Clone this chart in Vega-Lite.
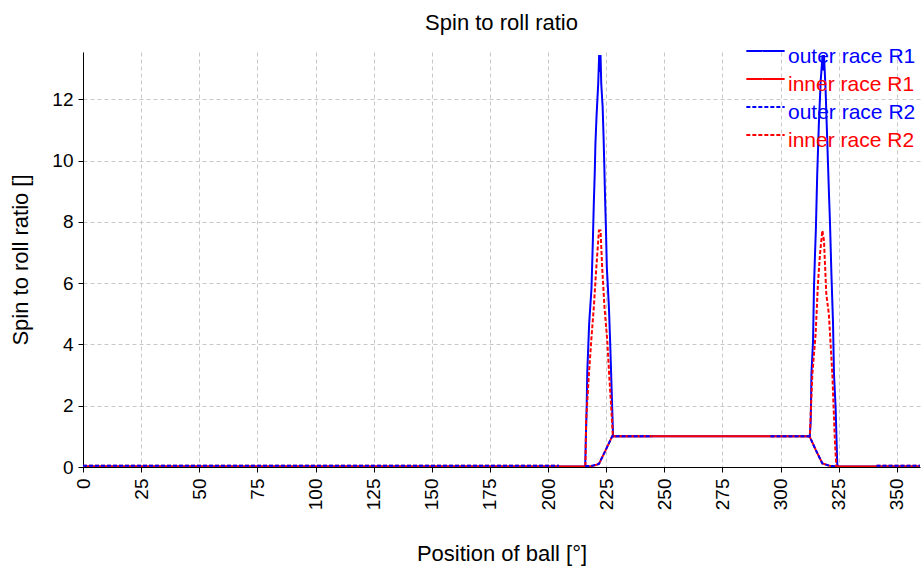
{
  "$schema": "https://vega.github.io/schema/vega-lite/v6.json",
  "width": 837,
  "height": 415,
  "autosize": {"type": "none"},
  "padding": {"left": 83, "top": 52, "right": 4, "bottom": 106},
  "background": "white",
  "config": {
    "font": "Liberation Sans",
    "view": {"stroke": null},
    "axis": {
      "domainColor": "black",
      "tickColor": "black",
      "tickSize": 5,
      "labelColor": "black",
      "titleColor": "black",
      "labelFont": "Liberation Sans",
      "titleFont": "Liberation Sans",
      "labelFontSize": 19,
      "titleFontSize": 22,
      "titleFontWeight": "normal",
      "gridColor": "#c8c8c8",
      "gridDash": [4, 3],
      "gridWidth": 1
    }
  },
  "title": {
    "text": "Spin to roll ratio",
    "fontSize": 22,
    "fontWeight": "normal",
    "font": "Liberation Sans",
    "color": "black",
    "anchor": "middle",
    "frame": "group",
    "offset": 6
  },
  "data": {
    "values": [
      {"series": "outer race R1", "pos": 0, "ratio": 0.02},
      {"series": "outer race R1", "pos": 216.0, "ratio": 0.02},
      {"series": "outer race R1", "pos": 216.3, "ratio": 1.0},
      {"series": "outer race R1", "pos": 216.6, "ratio": 1.85},
      {"series": "outer race R1", "pos": 216.9, "ratio": 3.1},
      {"series": "outer race R1", "pos": 217.7, "ratio": 4.68},
      {"series": "outer race R1", "pos": 218.7, "ratio": 5.82},
      {"series": "outer race R1", "pos": 219.3, "ratio": 7.4},
      {"series": "outer race R1", "pos": 219.7, "ratio": 8.6},
      {"series": "outer race R1", "pos": 220.1, "ratio": 9.58},
      {"series": "outer race R1", "pos": 220.4, "ratio": 10.56},
      {"series": "outer race R1", "pos": 220.9, "ratio": 11.49},
      {"series": "outer race R1", "pos": 221.6, "ratio": 12.52},
      {"series": "outer race R1", "pos": 222.0, "ratio": 13.45},
      {"series": "outer race R1", "pos": 222.3, "ratio": 12.9},
      {"series": "outer race R1", "pos": 222.6, "ratio": 13.45},
      {"series": "outer race R1", "pos": 222.9, "ratio": 12.52},
      {"series": "outer race R1", "pos": 223.5, "ratio": 11.76},
      {"series": "outer race R1", "pos": 223.9, "ratio": 10.78},
      {"series": "outer race R1", "pos": 224.2, "ratio": 9.9},
      {"series": "outer race R1", "pos": 224.5, "ratio": 8.93},
      {"series": "outer race R1", "pos": 224.9, "ratio": 7.84},
      {"series": "outer race R1", "pos": 225.3, "ratio": 6.53},
      {"series": "outer race R1", "pos": 226.2, "ratio": 5.22},
      {"series": "outer race R1", "pos": 226.8, "ratio": 3.92},
      {"series": "outer race R1", "pos": 227.2, "ratio": 2.93},
      {"series": "outer race R1", "pos": 227.6, "ratio": 1.95},
      {"series": "outer race R1", "pos": 228.0, "ratio": 1.0},
      {"series": "outer race R1", "pos": 312.6, "ratio": 1.0},
      {"series": "outer race R1", "pos": 313.0, "ratio": 1.5},
      {"series": "outer race R1", "pos": 313.3, "ratio": 3.03},
      {"series": "outer race R1", "pos": 314.0, "ratio": 4.12},
      {"series": "outer race R1", "pos": 314.4, "ratio": 5.87},
      {"series": "outer race R1", "pos": 314.8, "ratio": 6.85},
      {"series": "outer race R1", "pos": 315.2, "ratio": 7.72},
      {"series": "outer race R1", "pos": 315.8, "ratio": 9.57},
      {"series": "outer race R1", "pos": 316.5, "ratio": 11.2},
      {"series": "outer race R1", "pos": 317.3, "ratio": 12.63},
      {"series": "outer race R1", "pos": 318.1, "ratio": 13.45},
      {"series": "outer race R1", "pos": 318.4, "ratio": 12.95},
      {"series": "outer race R1", "pos": 318.7, "ratio": 13.45},
      {"series": "outer race R1", "pos": 319.4, "ratio": 12.3},
      {"series": "outer race R1", "pos": 320.1, "ratio": 10.66},
      {"series": "outer race R1", "pos": 320.8, "ratio": 9.03},
      {"series": "outer race R1", "pos": 321.3, "ratio": 7.94},
      {"series": "outer race R1", "pos": 321.9, "ratio": 6.3},
      {"series": "outer race R1", "pos": 322.6, "ratio": 4.67},
      {"series": "outer race R1", "pos": 323.0, "ratio": 3.03},
      {"series": "outer race R1", "pos": 323.7, "ratio": 1.94},
      {"series": "outer race R1", "pos": 324.4, "ratio": 0.09},
      {"series": "outer race R1", "pos": 324.8, "ratio": 0.02},
      {"series": "outer race R1", "pos": 360, "ratio": 0.02},

      {"series": "inner race R1", "pos": 0, "ratio": 0.02},
      {"series": "inner race R1", "pos": 216.0, "ratio": 0.02},
      {"series": "inner race R1", "pos": 219.0, "ratio": 0.03},
      {"series": "inner race R1", "pos": 221.9, "ratio": 0.1},
      {"series": "inner race R1", "pos": 224.8, "ratio": 0.55},
      {"series": "inner race R1", "pos": 227.6, "ratio": 1.0},
      {"series": "inner race R1", "pos": 312.5, "ratio": 1.0},
      {"series": "inner race R1", "pos": 315.2, "ratio": 0.55},
      {"series": "inner race R1", "pos": 318.0, "ratio": 0.12},
      {"series": "inner race R1", "pos": 321.0, "ratio": 0.04},
      {"series": "inner race R1", "pos": 323.7, "ratio": 0.02},
      {"series": "inner race R1", "pos": 360, "ratio": 0.02},

      {"series": "inner race R2", "pos": 0, "ratio": 0.04},
      {"series": "inner race R2", "pos": 204.7, "ratio": 0.04},
      {"series": "inner race R2", "pos": 210, "ratio": null},
      {"series": "inner race R2", "pos": 216.1, "ratio": 0.03},
      {"series": "inner race R2", "pos": 216.4, "ratio": 1.5},
      {"series": "inner race R2", "pos": 217.6, "ratio": 3.03},
      {"series": "inner race R2", "pos": 218.6, "ratio": 4.12},
      {"series": "inner race R2", "pos": 219.7, "ratio": 5.21},
      {"series": "inner race R2", "pos": 220.6, "ratio": 6.3},
      {"series": "inner race R2", "pos": 221.4, "ratio": 7.18},
      {"series": "inner race R2", "pos": 221.9, "ratio": 7.72},
      {"series": "inner race R2", "pos": 222.6, "ratio": 7.72},
      {"series": "inner race R2", "pos": 223.3, "ratio": 6.52},
      {"series": "inner race R2", "pos": 224.3, "ratio": 5.21},
      {"series": "inner race R2", "pos": 225.5, "ratio": 4.12},
      {"series": "inner race R2", "pos": 226.3, "ratio": 3.03},
      {"series": "inner race R2", "pos": 227.2, "ratio": 1.94},
      {"series": "inner race R2", "pos": 227.9, "ratio": 1.0},
      {"series": "inner race R2", "pos": 244.8, "ratio": 1.0},
      {"series": "inner race R2", "pos": 270, "ratio": null},
      {"series": "inner race R2", "pos": 295.7, "ratio": 1.0},
      {"series": "inner race R2", "pos": 312.6, "ratio": 1.0},
      {"series": "inner race R2", "pos": 313.7, "ratio": 3.03},
      {"series": "inner race R2", "pos": 315.1, "ratio": 4.34},
      {"series": "inner race R2", "pos": 316.1, "ratio": 5.98},
      {"series": "inner race R2", "pos": 317.0, "ratio": 6.96},
      {"series": "inner race R2", "pos": 318.0, "ratio": 7.72},
      {"series": "inner race R2", "pos": 318.7, "ratio": 7.39},
      {"series": "inner race R2", "pos": 319.7, "ratio": 5.65},
      {"series": "inner race R2", "pos": 320.8, "ratio": 4.99},
      {"series": "inner race R2", "pos": 322.3, "ratio": 3.03},
      {"series": "inner race R2", "pos": 323.4, "ratio": 0.85},
      {"series": "inner race R2", "pos": 324.0, "ratio": 0.02},
      {"series": "inner race R2", "pos": 332, "ratio": null},
      {"series": "inner race R2", "pos": 341.3, "ratio": 0.04},
      {"series": "inner race R2", "pos": 360, "ratio": 0.04},

      {"series": "outer race R2", "pos": 0, "ratio": 0.04},
      {"series": "outer race R2", "pos": 204.7, "ratio": 0.04},
      {"series": "outer race R2", "pos": 210, "ratio": null},
      {"series": "outer race R2", "pos": 216.0, "ratio": 0.03},
      {"series": "outer race R2", "pos": 219.0, "ratio": 0.04},
      {"series": "outer race R2", "pos": 221.9, "ratio": 0.1},
      {"series": "outer race R2", "pos": 224.8, "ratio": 0.55},
      {"series": "outer race R2", "pos": 227.6, "ratio": 1.0},
      {"series": "outer race R2", "pos": 244.8, "ratio": 1.0},
      {"series": "outer race R2", "pos": 270, "ratio": null},
      {"series": "outer race R2", "pos": 295.7, "ratio": 1.0},
      {"series": "outer race R2", "pos": 312.5, "ratio": 1.0},
      {"series": "outer race R2", "pos": 315.2, "ratio": 0.55},
      {"series": "outer race R2", "pos": 318.0, "ratio": 0.12},
      {"series": "outer race R2", "pos": 321.0, "ratio": 0.04},
      {"series": "outer race R2", "pos": 324.0, "ratio": 0.02},
      {"series": "outer race R2", "pos": 332, "ratio": null},
      {"series": "outer race R2", "pos": 341.3, "ratio": 0.04},
      {"series": "outer race R2", "pos": 360, "ratio": 0.04}
    ]
  },
  "mark": {"type": "line", "strokeWidth": 2, "clip": true},
  "encoding": {
    "x": {
      "field": "pos",
      "type": "quantitative",
      "scale": {"domain": [0, 360], "nice": false, "zero": false},
      "axis": {
        "title": "Position of ball [°]",
        "values": [0, 25, 50, 75, 100, 125, 150, 175, 200, 225, 250, 275, 300, 325, 350],
        "labelAngle": 270,
        "labelPadding": 6,
        "titlePadding": 34
      }
    },
    "y": {
      "field": "ratio",
      "type": "quantitative",
      "scale": {"domain": [0, 13.55], "nice": false},
      "axis": {
        "title": "Spin to roll ratio []",
        "values": [0, 2, 4, 6, 8, 10, 12],
        "labelPadding": 5,
        "titlePadding": 19
      }
    },
    "color": {
      "field": "series",
      "type": "nominal",
      "scale": {
        "domain": ["outer race R1", "inner race R1", "outer race R2", "inner race R2"],
        "range": ["#0000ff", "#ff0000", "#0000ff", "#ff0000"]
      },
      "legend": {
        "title": null,
        "orient": "none",
        "legendX": 672,
        "legendY": -11.5,
        "padding": 0,
        "symbolType": "M-2.5,0H2.5",
        "symbolSize": 235,
        "symbolStrokeWidth": 2,
        "labelFontSize": 21,
        "labelFont": "Liberation Sans",
        "labelOffset": 12,
        "rowPadding": 1,
        "labelLimit": 300,
        "encode": {
          "labels": {"update": {"fill": {"scale": "color", "field": "value"}, "dy": {"value": 6}}}
        }
      }
    },
    "strokeDash": {
      "field": "series",
      "type": "nominal",
      "scale": {
        "domain": ["outer race R1", "inner race R1", "outer race R2", "inner race R2"],
        "range": [[1, 0], [1, 0], [4, 2], [4, 2]]
      },
      "legend": {
        "title": null,
        "orient": "none",
        "legendX": 672,
        "legendY": -11.5,
        "padding": 0,
        "symbolType": "M-2.5,0H2.5",
        "symbolSize": 235,
        "symbolStrokeWidth": 2,
        "labelFontSize": 21,
        "labelFont": "Liberation Sans",
        "labelOffset": 12,
        "rowPadding": 1,
        "labelLimit": 300,
        "encode": {
          "labels": {"update": {"fill": {"scale": "color", "field": "value"}, "dy": {"value": 6}}}
        }
      }
    }
  }
}
